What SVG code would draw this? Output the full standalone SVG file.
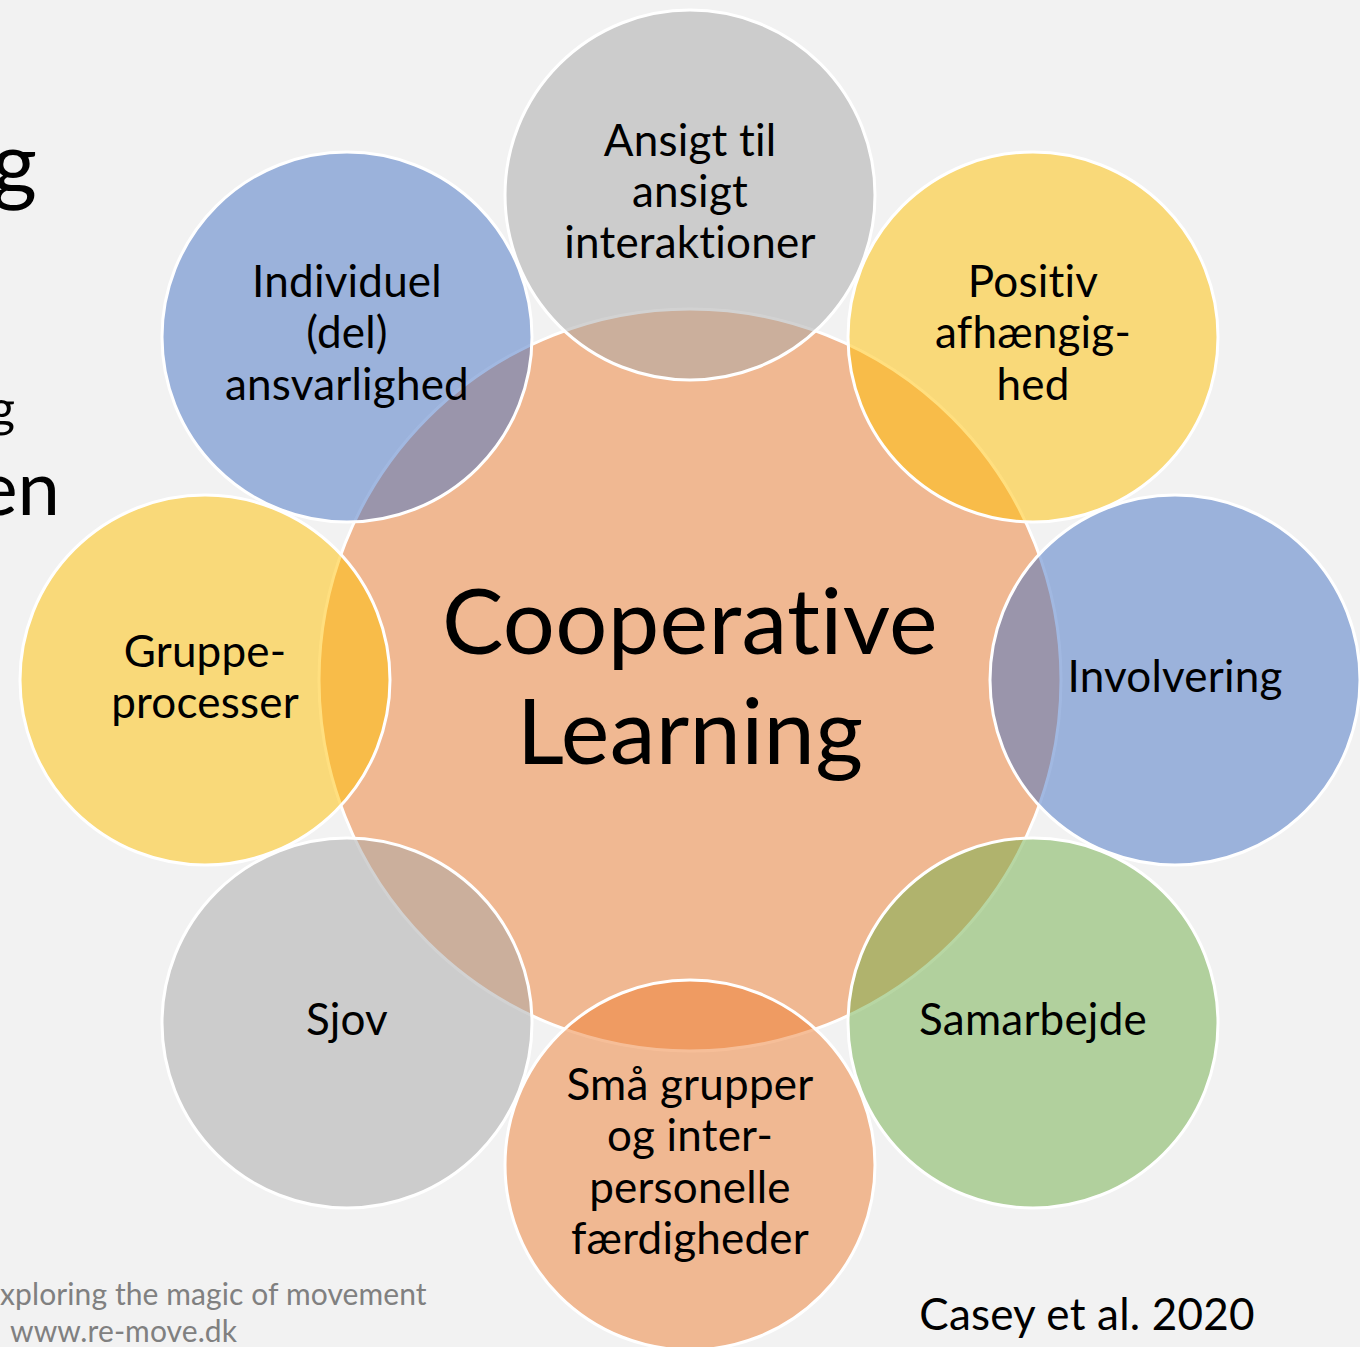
<svg xmlns="http://www.w3.org/2000/svg" width="1360" height="1347" viewBox="0 0 1360 1347">
<style>
.bg{fill:#f2f2f2}
.c{stroke:#ffffff;stroke-width:3;fill-opacity:0.5}
.orange{fill:#ED7D31}
.gray{fill:#A5A5A5}
.blue{fill:#4472C4}
.yellow{fill:#FFC000}
.green{fill:#70AD47}
text{font-variant-ligatures:none;font-feature-settings:"liga" 0, "clig" 0, "dlig" 0}
.lbl{font-family:Lato,"Liberation Sans",sans-serif;font-size:44px;fill:#000;text-anchor:middle;letter-spacing:0.2px}
.big{font-family:Lato,"Liberation Sans",sans-serif;font-size:92px;fill:#000;text-anchor:middle;letter-spacing:0.3px}
.side{font-family:Lato,"Liberation Sans",sans-serif;fill:#000;text-anchor:end}
.foot{font-family:Lato,"Liberation Sans",sans-serif;font-size:30px;fill:#808080;letter-spacing:0.1px}
</style>
<rect class="bg" x="0" y="0" width="1360" height="1347"/>
<g id="background-text">
<text class="side" x="37" y="194" font-size="88">g</text>
<text class="side" x="15" y="426" font-size="50">g</text>
<text class="side" x="60" y="515" font-size="76">en</text>
</g>
<g id="connectors"></g>
<g id="node-center">
<circle class="c orange" cx="690" cy="680" r="371"/>
<text class="big" x="690" y="654">Cooperative</text>
<text class="big" x="690" y="764">Learning</text>
</g>
<g id="node-top">
<circle class="c gray" cx="690" cy="195" r="185"/>
<text class="lbl" x="690" y="156">Ansigt til</text>
<text class="lbl" x="690" y="207">ansigt</text>
<text class="lbl" x="690" y="258">interaktioner</text>
</g>
<g id="node-topright">
<circle class="c yellow" cx="1033" cy="337" r="185"/>
<text class="lbl" x="1033" y="297">Positiv</text>
<text class="lbl" x="1033" y="348">afhængig-</text>
<text class="lbl" x="1033" y="400">hed</text>
</g>
<g id="node-right">
<circle class="c blue" cx="1175" cy="680" r="185"/>
<text class="lbl" x="1175" y="692">Involvering</text>
</g>
<g id="node-bottomright">
<circle class="c green" cx="1033" cy="1023" r="185"/>
<text class="lbl" x="1033" y="1035">Samarbejde</text>
</g>
<g id="node-bottom">
<circle class="c orange" cx="690" cy="1165" r="185"/>
<text class="lbl" x="690" y="1100">Små grupper</text>
<text class="lbl" x="690" y="1151">og inter-</text>
<text class="lbl" x="690" y="1203">personelle</text>
<text class="lbl" x="690" y="1254">færdigheder</text>
</g>
<g id="node-bottomleft">
<circle class="c gray" cx="347" cy="1023" r="185"/>
<text class="lbl" x="347" y="1035">Sjov</text>
</g>
<g id="node-left">
<circle class="c yellow" cx="205" cy="680" r="185"/>
<text class="lbl" x="205" y="667">Gruppe-</text>
<text class="lbl" x="205" y="718">processer</text>
</g>
<g id="node-topleft">
<circle class="c blue" cx="347" cy="337" r="185"/>
<text class="lbl" x="347" y="297">Individuel</text>
<text class="lbl" x="347" y="348">(del)</text>
<text class="lbl" x="347" y="400">ansvarlighed</text>
</g>
<g id="footer">
<text class="foot" x="0" y="1305">xploring the magic of movement</text>
<text class="foot" x="10" y="1342">www.re-move.dk</text>
<text class="lbl" x="1087" y="1330">Casey et al. 2020</text>
</g>
</svg>
